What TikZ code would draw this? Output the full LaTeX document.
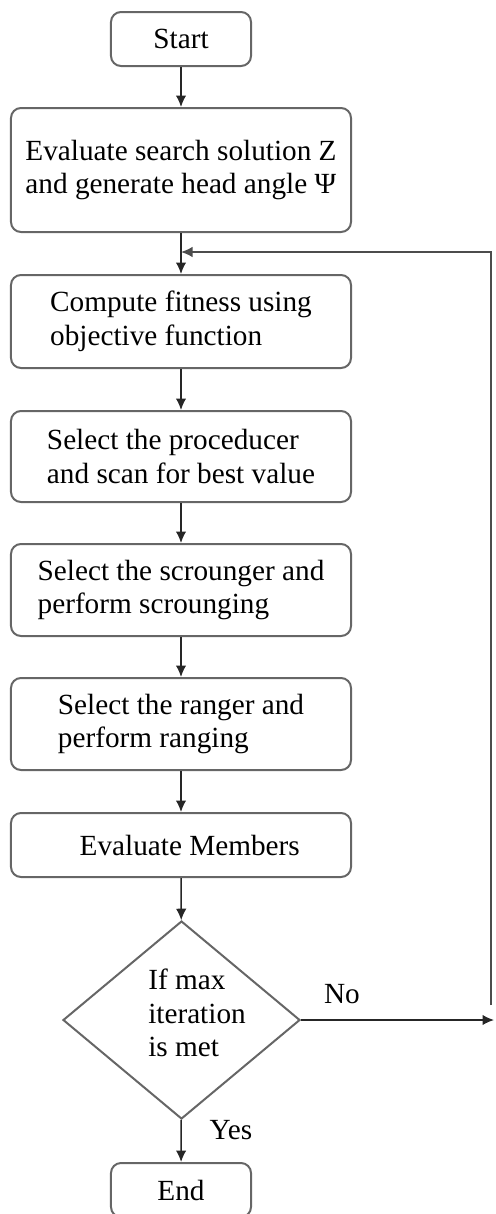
\documentclass[tikz,border=0pt]{standalone}
\usepackage{fontspec}
\setmainfont{Liberation Serif}
\usetikzlibrary{arrows.meta,shapes.geometric}

\begin{document}
\begin{tikzpicture}[x=0.4pt,y=-0.4pt,font=\fontsize{11.7}{13.4}\selectfont,
  box/.style={draw=black!60,line width=0.8pt,rounded corners=4pt,minimum width=136pt,align=left,inner sep=0pt},
  term/.style={box,minimum width=56pt,minimum height=21.6pt},
  arr/.style={draw=black!85,line width=0.6pt,-{Latex[length=4.6pt,width=4.2pt]}}]
  \useasboundingbox (0,0) rectangle (495,1214);
  \node[term] (start) at (181,39) {Start};
  \node[box,minimum height=49.6pt] (eval) at (181,170) {Evaluate search solution Z\\and generate head angle Ψ};
  \node[box,minimum height=37.2pt] (fit) at (181,321.5) {Compute fitness using\\objective function};
  \node[box,minimum height=36.4pt] (prod) at (181,456.5) {Select the proceducer\\and scan for best value};
  \node[box,minimum height=36.8pt] (scr) at (181,590) {Select the scrounger and\\perform scrounging};
  \node[box,minimum height=36.8pt] (rng) at (181,724) {Select the ranger and\\perform ranging};
  \node[box,minimum height=25.6pt] (memb) at (181,845) {\hspace{7pt}Evaluate Members};
  \node[draw=black!60,line width=0.8pt,diamond,inner sep=0pt,minimum width=94.8pt,minimum height=79.2pt] (cond) at (181.5,1020) {};
  \node[align=left,inner sep=0pt] (condtxt) at (197,1013) {If max\\iteration\\is met};
  \node[term] (end) at (181,1190) {End};
  \node (nolbl) at (342,994) {No};
  \node (yeslbl) at (231,1130) {Yes};
  \coordinate (join) at (181,252); \coordinate (noend) at (494,1020);
  \coordinate (loopbot) at (491,1005);
  \foreach \a/\b in {start/eval,eval/fit,fit/prod,prod/scr,scr/rng,rng/memb,memb/cond,cond/end}
    \draw[arr] (\a) -- (\b);
  \draw[arr] (cond.east) -- (noend);
  \draw[arr,draw=black!70] (loopbot) |- (join);
\end{tikzpicture}
\end{document}
